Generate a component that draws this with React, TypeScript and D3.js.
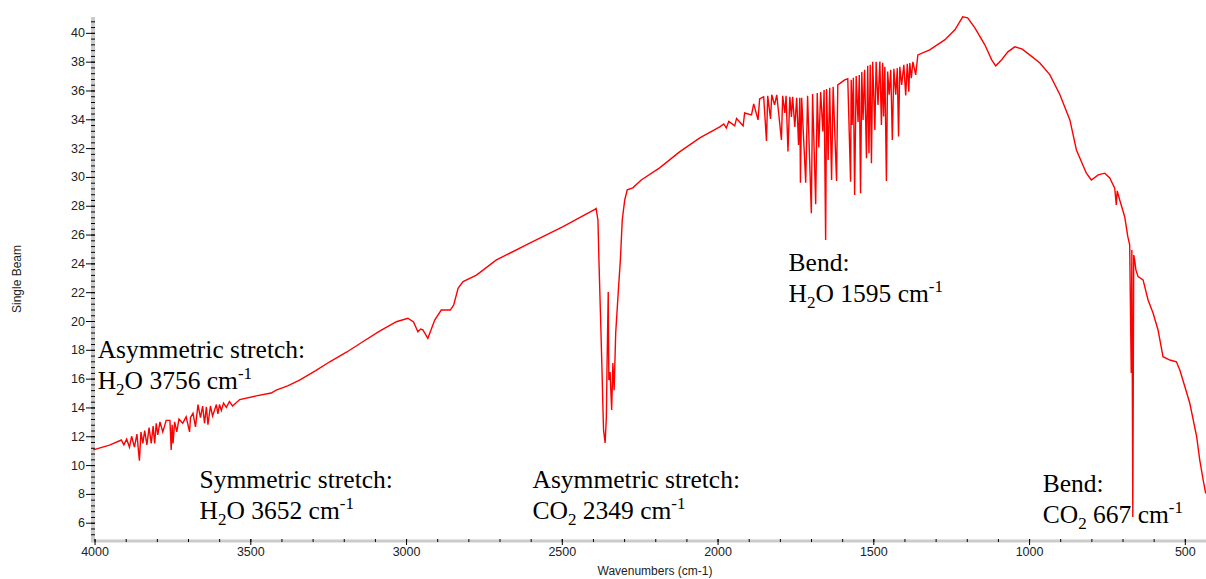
import React, { useEffect, useRef } from "react";
import * as d3 from "d3";

// [wavenumber (cm-1), single beam], high wavenumber first
const h2oStretch: [number, number][] = [
  [4004, 11.05], [3952, 11.39], [3914, 11.74], [3906, 11.4], [3897, 11.8],
  [3888, 11.25], [3881, 12.0], [3872, 11.25], [3864, 12.15], [3856, 10.3],
  [3851, 12.3], [3845, 11.5], [3839, 12.4], [3832, 11.4], [3825, 12.6],
  [3818, 11.5], [3812, 12.7], [3807, 11.5], [3802, 12.9], [3797, 12.1],
  [3790, 13.0], [3781, 12.3], [3770, 13.1], [3758, 13.1], [3754, 11.05],
  [3751, 12.8], [3748, 11.5], [3743, 13.0], [3736, 12.3], [3729, 13.2],
  [3717, 12.9], [3706, 13.35], [3695, 12.3], [3692, 13.3], [3684, 13.6],
  [3676, 12.65], [3668, 14.2], [3660, 13.3], [3653, 14.1], [3647, 12.9],
  [3641, 14.05], [3636, 12.8], [3628, 14.1], [3621, 13.4], [3609, 14.2],
  [3604, 13.55], [3599, 14.2], [3593, 13.8], [3586, 14.3], [3577, 14.0],
  [3567, 14.4], [3557, 14.1], [3534, 14.55], [3481, 14.8], [3433, 15.0],
  [3417, 15.2],
];

const midRange: [number, number][] = [
  [3380, 15.5], [3342, 15.9], [3290, 16.55], [3245, 17.17], [3190, 17.85],
  [3139, 18.56], [3085, 19.3], [3031, 19.95], [2994, 20.19],
  [2976, 19.93], [2962, 19.25], [2953, 19.44], [2946, 19.38], [2930, 18.8],
  [2908, 20.07], [2887, 20.76], [2858, 20.76], [2847, 21.11], [2833, 22.27],
  [2817, 22.73], [2774, 23.19], [2710, 24.24], [2603, 25.4], [2496, 26.55],
  [2394, 27.75],
];

const co2Stretch: [number, number][] = [
  [2390, 27.81], [2384, 27.01], [2381, 24.38], [2376, 20.56], [2371, 16.6],
  [2368, 13.96], [2366, 12.43], [2361, 11.53], [2357, 13.33], [2355, 16.6],
  [2351, 22.01], [2349, 15.9], [2345, 16.46], [2340, 13.82], [2336, 17.08],
  [2332, 15.2], [2327, 19.17], [2319, 21.94], [2312, 24.24], [2306, 27.01],
  [2298, 28.4], [2290, 29.1], [2272, 29.24], [2245, 29.79], [2186, 30.63],
  [2122, 31.74], [2057, 32.71],
];

const h2oBend: [number, number][] = [
  [1993, 33.47], [1980, 33.68], [1972, 33.4], [1964, 33.85], [1945, 33.54],
  [1939, 34.06], [1918, 33.54], [1913, 34.44], [1891, 34.31], [1884, 35.07],
  [1870, 33.96], [1865, 35.42], [1852, 35.56], [1843, 32.5], [1839, 35.63],
  [1830, 34.03], [1826, 35.7], [1817, 35.0], [1810, 35.7], [1795, 32.57],
  [1791, 35.63], [1784, 34.44], [1780, 35.63], [1774, 31.76], [1768, 35.56],
  [1763, 34.17], [1759, 35.56], [1752, 33.47], [1746, 35.49], [1740, 32.22],
  [1736, 35.49], [1734, 29.6], [1730, 35.49], [1717, 29.6], [1711, 35.63],
  [1699, 27.48], [1695, 35.76], [1685, 28.1], [1680, 35.83], [1675, 32.04],
  [1669, 35.9], [1662, 33.15], [1658, 36.04], [1653, 25.63], [1650, 36.11],
  [1645, 31.18], [1640, 36.18], [1634, 29.79], [1629, 36.25], [1618, 29.72],
  [1614, 36.39], [1605, 36.53], [1592, 36.74], [1582, 36.81], [1573, 29.67],
  [1571, 36.74], [1568, 33.61], [1564, 36.88], [1560, 28.75], [1555, 37.01],
  [1549, 33.82], [1545, 37.08], [1541, 28.87], [1537, 37.29], [1533, 33.96],
  [1528, 37.43], [1522, 31.3], [1518, 37.71], [1514, 31.65], [1510, 37.78],
  [1506, 30.95], [1502, 37.99], [1495, 33.26], [1491, 37.99], [1485, 35.0],
  [1479, 38.01], [1474, 33.61], [1470, 37.92], [1467, 34.19], [1463, 37.64],
  [1458, 29.72], [1454, 37.31], [1449, 35.7], [1444, 37.43], [1439, 32.57],
  [1434, 37.5], [1428, 35.7], [1423, 37.55], [1419, 32.8], [1415, 37.64],
  [1409, 36.39], [1402, 37.78], [1396, 35.65], [1391, 37.85], [1386, 35.92],
  [1383, 37.9], [1378, 36.86], [1373, 37.99], [1364, 37.08], [1357, 38.47],
  [1319, 38.82], [1271, 39.51], [1238, 40.21], [1213, 41.11],
];

const lowRange: [number, number][] = [
  [1197, 41.04], [1174, 40.35], [1142, 39.17], [1120, 38.13], [1107, 37.71],
  [1088, 38.13], [1068, 38.68], [1046, 39.03], [1023, 38.89], [998, 38.47],
  [966, 37.92], [933, 37.08], [901, 35.7], [869, 33.96], [848, 31.87],
  [816, 30.26], [800, 29.79], [778, 30.14], [757, 30.26], [741, 29.93],
  [725, 29.22], [720, 28.06], [717, 29.03], [709, 28.4], [693, 27.24],
  [683, 25.85], [677, 25.28], [672, 16.39], [670, 24.93], [667, 6.39],
  [664, 24.58], [661, 24.24], [657, 23.54], [650, 23.08], [634, 22.85],
  [618, 21.46], [602, 20.56], [586, 19.38], [570, 17.52], [548, 17.29],
  [527, 17.17], [516, 16.6], [500, 15.45], [484, 14.29], [462, 11.97],
  [452, 10.35], [441, 8.96], [433, 8.03],
];

const xTicks = [4000, 3500, 3000, 2500, 2000, 1500, 1000, 500];
const yTicks = [6, 8, 10, 12, 14, 16, 18, 20, 22, 24, 26, 28, 30, 32, 34, 36, 38, 40];

type Seg = { t: string; sub?: boolean; sup?: boolean };
const annotations: { wn: number; val: number; title: string; label: Seg[] }[] = [
  { wn: 3990, val: 17.43, title: "Asymmetric stretch:", label: [{ t: "H" }, { t: "2", sub: true }, { t: "O 3756 cm" }, { t: "-1", sup: true }] },
  { wn: 3663, val: 8.4, title: "Symmetric stretch:", label: [{ t: "H" }, { t: "2", sub: true }, { t: "O 3652 cm" }, { t: "-1", sup: true }] },
  { wn: 2594, val: 8.4, title: "Asymmetric stretch:", label: [{ t: "CO" }, { t: "2", sub: true }, { t: " 2349 cm" }, { t: "-1", sup: true }] },
  { wn: 1772, val: 23.47, title: "Bend:", label: [{ t: "H" }, { t: "2", sub: true }, { t: "O 1595 cm" }, { t: "-1", sup: true }] },
  { wn: 956, val: 8.12, title: "Bend:", label: [{ t: "CO" }, { t: "2", sub: true }, { t: " 667 cm" }, { t: "-1", sup: true }] },
];

const SANS = "'Liberation Sans', Arial, sans-serif";
const SERIF = "'Liberation Serif', 'Times New Roman', serif";

export default function App() {
  const ref = useRef<SVGSVGElement>(null);

  useEffect(() => {
    const svg = d3.select(ref.current);
    svg.selectAll("*").remove();

    const x = d3.scaleLinear().domain([4005, 432]).range([93, 1206]);
    const y = d3.scaleLinear().domain([4.8, 41.1]).range([540, 17]);

    // axis bars
    svg.append("line")
      .attr("x1", 93).attr("x2", 93).attr("y1", 17).attr("y2", 542)
      .attr("stroke", "#cbcbcb").attr("stroke-width", 4);
    svg.append("line")
      .attr("x1", 91).attr("x2", 1206).attr("y1", 541).attr("y2", 541)
      .attr("stroke", "#cbcbcb").attr("stroke-width", 3);

    // y minor ticks
    const yMinor = d3.range(5.2, 41.2, 0.4);
    svg.append("g")
      .attr("transform", "translate(95,0)")
      .call(d3.axisLeft(y).tickValues(yMinor).tickSize(4).tickFormat(() => ""))
      .call(g => g.select(".domain").remove())
      .call(g => g.selectAll("line").attr("stroke", "#000"));

    // y major ticks
    svg.append("g")
      .attr("transform", "translate(95,0)")
      .call(d3.axisLeft(y).tickValues(yTicks).tickSize(9).tickPadding(1).tickFormat(d3.format("d")))
      .call(g => g.select(".domain").remove())
      .call(g => g.selectAll("line").attr("stroke", "#000"))
      .call(g => g.selectAll("text").attr("font-family", SANS).attr("font-size", 12.5).attr("fill", "#222"));

    // x minor ticks
    svg.append("g")
      .attr("transform", "translate(0,539)")
      .call(d3.axisBottom(x).tickValues(d3.range(4000, 400, -100)).tickSize(3).tickFormat(() => ""))
      .call(g => g.select(".domain").remove())
      .call(g => g.selectAll("line").attr("stroke", "#000"));

    // x major ticks
    svg.append("g")
      .attr("transform", "translate(0,539)")
      .call(d3.axisBottom(x).tickValues(xTicks).tickSize(6).tickPadding(2).tickFormat(d3.format("d")))
      .call(g => g.select(".domain").remove())
      .call(g => g.selectAll("line").attr("stroke", "#000"))
      .call(g => g.selectAll("text").attr("font-family", SANS).attr("font-size", 12.5).attr("fill", "#222"));

    // axis titles
    svg.append("text")
      .attr("transform", "translate(21,279) rotate(-90)")
      .attr("text-anchor", "middle")
      .attr("font-family", SANS).attr("font-size", 12).attr("fill", "#222")
      .text("Single Beam");
    svg.append("text")
      .attr("x", 655).attr("y", 575)
      .attr("text-anchor", "middle")
      .attr("font-family", SANS).attr("font-size", 12).attr("fill", "#222")
      .text("Wavenumbers (cm-1)");

    // spectrum
    const spectrum = [...h2oStretch, ...midRange, ...co2Stretch, ...h2oBend, ...lowRange];
    const line = d3.line<[number, number]>().x(d => x(d[0])).y(d => y(d[1]));
    svg.append("path")
      .datum(spectrum)
      .attr("d", line)
      .attr("fill", "none")
      .attr("stroke", "#ff0000")
      .attr("stroke-width", 1.4);

    // annotations
    const fs = 25.5;
    annotations.forEach(a => {
      const g = svg.append("g")
        .attr("transform", `translate(${x(a.wn)},${y(a.val)})`)
        .attr("font-family", SERIF).attr("fill", "#000");
      g.append("text").attr("font-size", fs).text(a.title);
      const t = g.append("text").attr("y", 31).attr("font-size", fs);
      let shift = 0;
      a.label.forEach(s => {
        const target = s.sub ? 6 : s.sup ? -10 : 0;
        t.append("tspan")
          .attr("dy", target - shift)
          .attr("font-size", s.sub || s.sup ? 17 : fs)
          .text(s.t);
        shift = target;
      });
    });
  }, []);

  return (
    <svg
      ref={ref}
      width={1206}
      height={579}
      style={{ position: "absolute", left: 0, top: 0, background: "#fff" }}
    />
  );
}
